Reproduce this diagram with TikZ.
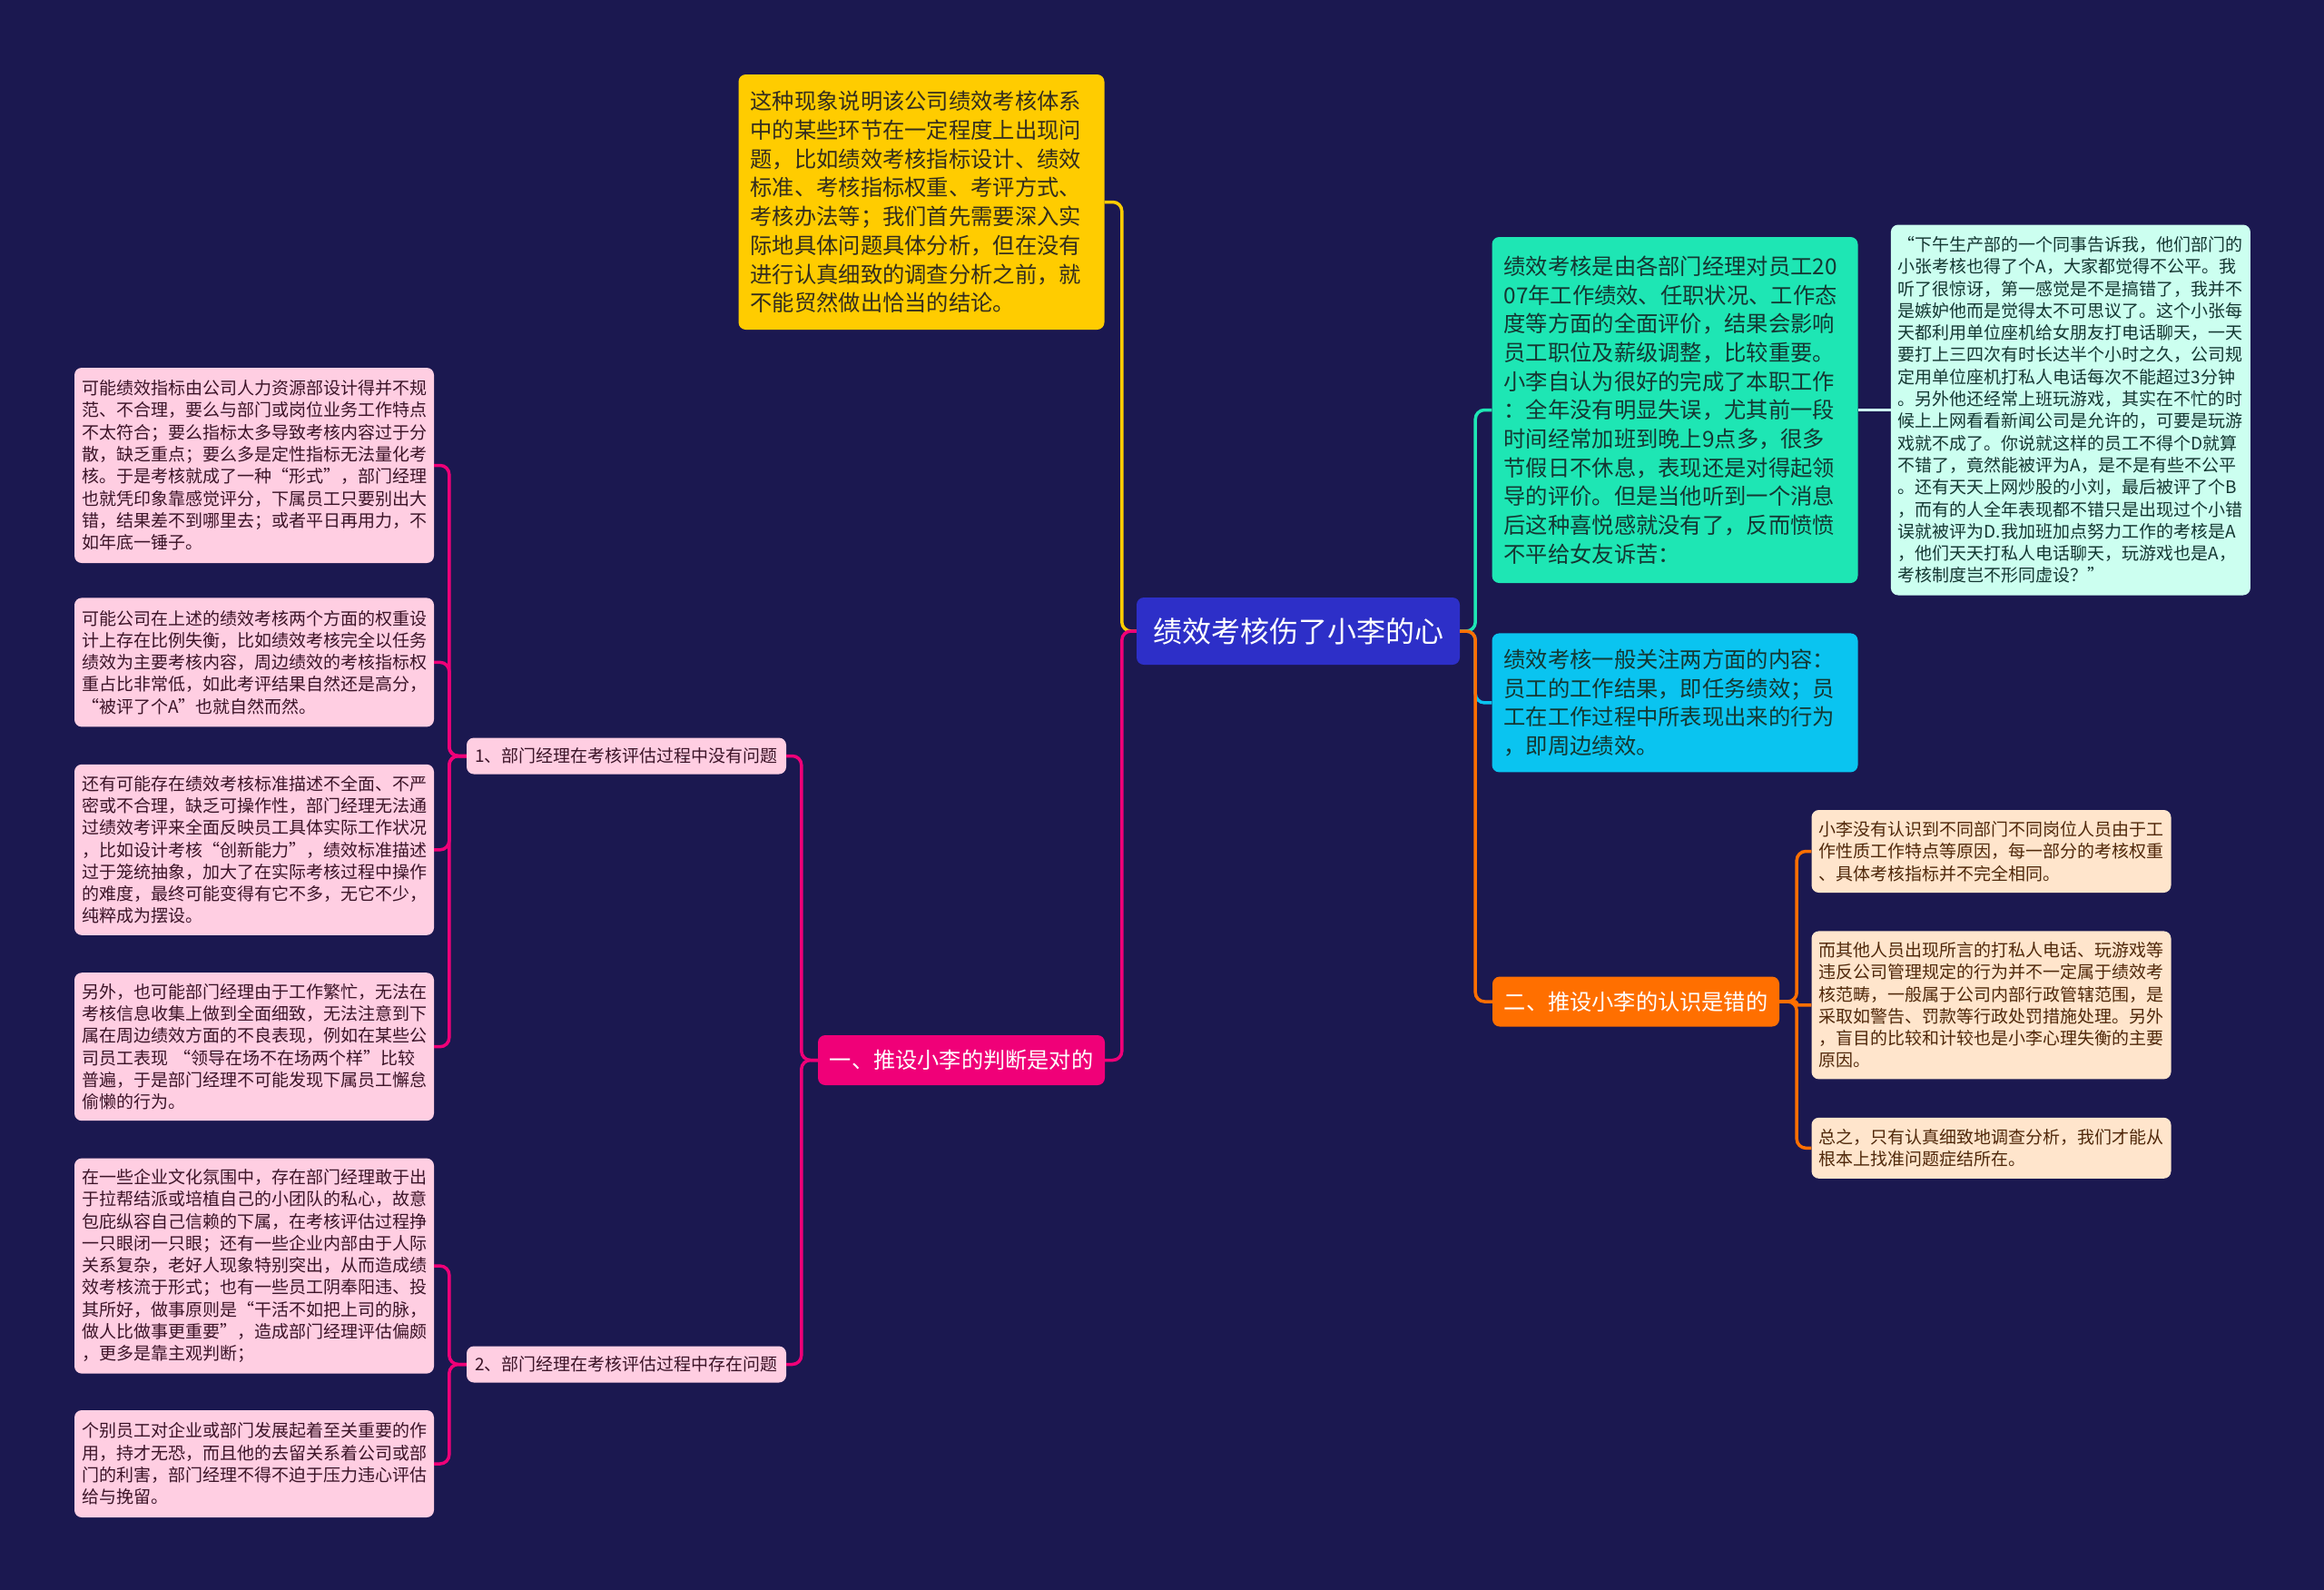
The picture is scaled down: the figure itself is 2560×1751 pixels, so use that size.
\documentclass[tikz,border=0pt]{standalone}
\usepackage{fontspec}
\setmainfont{Noto Sans CJK SC}
\usetikzlibrary{positioning}

\definecolor{navy}{RGB}{27,24,80}
\definecolor{rootblue}{RGB}{45,47,200}
\definecolor{gold}{RGB}{255,204,0}
\definecolor{hotpink}{RGB}{240,0,120}
\definecolor{pinkleaf}{RGB}{255,206,226}
\definecolor{mint}{RGB}{30,230,180}
\definecolor{palemint}{RGB}{204,255,240}
\definecolor{skyblue}{RGB}{10,196,240}
\definecolor{orangec}{RGB}{255,111,0}
\definecolor{tan}{RGB}{255,229,204}
\definecolor{darktext}{RGB}{51,45,30}
\definecolor{pinktext}{RGB}{60,20,40}
\definecolor{tealtext}{RGB}{20,55,50}
\definecolor{tantext}{RGB}{80,40,10}

\begin{document}
\begin{tikzpicture}[x=1pt, y=-1pt,
  box/.style={rectangle, rounded corners=8pt, align=left, inner ysep=0pt},
  rootbox/.style={box, fill=rootblue, text=white, align=center, font=\fontsize{32pt}{40pt}\selectfont, minimum width=356pt, minimum height=74pt},
  notebig/.style={box, font=\fontsize{24.3pt}{31.7pt}\selectfont, inner xsep=13pt, text width=377pt},
  branch/.style={box, text=white, align=center, font=\fontsize{24.2pt}{30pt}\selectfont, minimum width=316pt, minimum height=55pt},
  notesmall/.style={box, font=\fontsize{19pt}{24.3pt}\selectfont, inner xsep=8pt, text width=380pt},
  pinknote/.style={notesmall, fill=pinkleaf, text=pinktext},
  tannote/.style={notesmall, fill=tan, text=tantext},
  sublabel/.style={box, fill=pinkleaf, text=pinktext, align=center, font=\fontsize{19pt}{24pt}\selectfont, minimum width=352pt, minimum height=40pt},
  link/.style={line width=3.5pt, rounded corners=10pt}
]
\useasboundingbox (0,0) rectangle (2560,1751);
\fill[navy] (0,0) rectangle (2560,1751);

% centre and first level
\node[rootbox] (root) at (1430,695) {绩效考核伤了小李的心};
\node[notebig, fill=gold, text=darktext, minimum height=281pt] (premise) at (1015,222.5) {这种现象说明该公司绩效考核体系\\中的某些环节在一定程度上出现问\\题，比如绩效考核指标设计、绩效\\标准、考核指标权重、考评方式、\\考核办法等；我们首先需要深入实\\际地具体问题具体分析，但在没有\\进行认真细致的调查分析之前，就\\不能贸然做出恰当的结论。};
\node[branch, fill=hotpink] (branchA) at (1059,1167.5) {一、推设小李的判断是对的};
\node[notebig, fill=mint, text=tealtext, minimum height=381pt] (fact) at (1845,451.5) {绩效考核是由各部门经理对员工20\\07年工作绩效、任职状况、工作态\\度等方面的全面评价，结果会影响\\员工职位及薪级调整，比较重要。\\小李自认为很好的完成了本职工作\\：全年没有明显失误，尤其前一段\\时间经常加班到晚上9点多，很多\\节假日不休息，表现还是对得起领\\导的评价。但是当他听到一个消息\\后这种喜悦感就没有了，反而愤愤\\不平给女友诉苦：};
\node[notesmall, fill=palemint, text=tealtext, minimum height=408pt, right=36pt of fact] (quote) {“下午生产部的一个同事告诉我，他们部门的\\小张考核也得了个A，大家都觉得不公平。我\\听了很惊讶，第一感觉是不是搞错了，我并不\\是嫉妒他而是觉得太不可思议了。这个小张每\\天都利用单位座机给女朋友打电话聊天，一天\\要打上三四次有时长达半个小时之久，公司规\\定用单位座机打私人电话每次不能超过3分钟\\。另外他还经常上班玩游戏，其实在不忙的时\\候上上网看看新闻公司是允许的，可要是玩游\\戏就不成了。你说就这样的员工不得个D就算\\不错了，竟然能被评为A，是不是有些不公平\\。还有天天上网炒股的小刘，最后被评了个B\\，而有的人全年表现都不错只是出现过个小错\\误就被评为D.我加班加点努力工作的考核是A\\，他们天天打私人电话聊天，玩游戏也是A，\\考核制度岂不形同虚设？”};
\node[notebig, fill=skyblue, text=tealtext, minimum height=153pt, below=55pt of fact] (focus) {绩效考核一般关注两方面的内容：\\员工的工作结果，即任务绩效；员\\工在工作过程中所表现出来的行为\\，即周边绩效。};
\node[branch, fill=orangec] (branchB) at (1802,1103) {二、推设小李的认识是错的};

% left side
\node[sublabel] (subA1) at (690,832.5) {1、部门经理在考核评估过程中没有问题};
\node[sublabel] (subA2) at (690,1502.5) {2、部门经理在考核评估过程中存在问题};
\node[pinknote, minimum height=215pt] (leafA1) at (280,512.5) {可能绩效指标由公司人力资源部设计得并不规\\范、不合理，要么与部门或岗位业务工作特点\\不太符合；要么指标太多导致考核内容过于分\\散，缺乏重点；要么多是定性指标无法量化考\\核。于是考核就成了一种“形式”，部门经理\\也就凭印象靠感觉评分，下属员工只要别出大\\错，结果差不到哪里去；或者平日再用力，不\\如年底一锤子。};
\node[pinknote, minimum height=142pt, below=38pt of leafA1] (leafA2) {可能公司在上述的绩效考核两个方面的权重设\\计上存在比例失衡，比如绩效考核完全以任务\\绩效为主要考核内容，周边绩效的考核指标权\\重占比非常低，如此考评结果自然还是高分，\\“被评了个A”也就自然而然。};
\node[pinknote, minimum height=188pt, below=41pt of leafA2] (leafA3) {还有可能存在绩效考核标准描述不全面、不严\\密或不合理，缺乏可操作性，部门经理无法通\\过绩效考评来全面反映员工具体实际工作状况\\，比如设计考核“创新能力”，绩效标准描述\\过于笼统抽象，加大了在实际考核过程中操作\\的难度，最终可能变得有它不多，无它不少，\\纯粹成为摆设。};
\node[pinknote, minimum height=163pt, below=41pt of leafA3] (leafA4) {另外，也可能部门经理由于工作繁忙，无法在\\考核信息收集上做到全面细致，无法注意到下\\属在周边绩效方面的不良表现，例如在某些公\\司员工表现 “领导在场不在场两个样”比较\\普遍，于是部门经理不可能发现下属员工懈怠\\偷懒的行为。};
\node[pinknote, minimum height=237pt, below=41pt of leafA4] (leafA5) {在一些企业文化氛围中，存在部门经理敢于出\\于拉帮结派或培植自己的小团队的私心，故意\\包庇纵容自己信赖的下属，在考核评估过程挣\\一只眼闭一只眼；还有一些企业内部由于人际\\关系复杂，老好人现象特别突出，从而造成绩\\效考核流于形式；也有一些员工阴奉阳违、投\\其所好，做事原则是“干活不如把上司的脉，\\做人比做事更重要”，造成部门经理评估偏颇\\，更多是靠主观判断；};
\node[pinknote, minimum height=118pt, below=40pt of leafA5] (leafA6) {个别员工对企业或部门发展起着至关重要的作\\用，持才无恐，而且他的去留关系着公司或部\\门的利害，部门经理不得不迫于压力违心评估\\给与挽留。};

% right side, second branch
\node[tannote, minimum height=91pt] (leafB1) at (2193.5,937.5) {小李没有认识到不同部门不同岗位人员由于工\\作性质工作特点等原因，每一部分的考核权重\\、具体考核指标并不完全相同。};
\node[tannote, minimum height=163pt, below=42pt of leafB1] (leafB2) {而其他人员出现所言的打私人电话、玩游戏等\\违反公司管理规定的行为并不一定属于绩效考\\核范畴，一般属于公司内部行政管辖范围，是\\采取如警告、罚款等行政处罚措施处理。另外\\，盲目的比较和计较也是小李心理失衡的主要\\原因。};
\node[tannote, minimum height=67pt, below=42pt of leafB2] (leafB3) {总之，只有认真细致地调查分析，我们才能从\\根本上找准问题症结所在。};

% connectors
\draw[link, gold] (root.west) -- ++(-16,0) |- (premise.east);
\draw[link, hotpink] (root.west) -- ++(-16,0) |- (branchA.east);
\draw[link, mint] (root.east) -- ++(17,0) |- (fact.west);
\draw[link, skyblue] (root.east) -- ++(17,0) |- (focus.west);
\draw[link, orangec] (root.east) -- ++(17,0) |- (branchB.west);
\draw[link, palemint] (fact.east) -- (quote.west);
\foreach \s in {subA1,subA2}
  \draw[link, hotpink] (branchA.west) -- ++(-18,0) |- (\s.east);
\foreach \l in {leafA1,leafA2,leafA3,leafA4}
  \draw[link, hotpink] (subA1.west) -- ++(-19,0) |- (\l.east);
\foreach \l in {leafA5,leafA6}
  \draw[link, hotpink] (subA2.west) -- ++(-19,0) |- (\l.east);
\foreach \l in {leafB1,leafB3}
  \draw[link, orangec] (branchB.east) -- ++(19,0) |- (\l.west);
\draw[link, orangec, rounded corners=1.5pt] (branchB.east) -- ++(19,0) |- (leafB2.west);
\end{tikzpicture}
\end{document}
